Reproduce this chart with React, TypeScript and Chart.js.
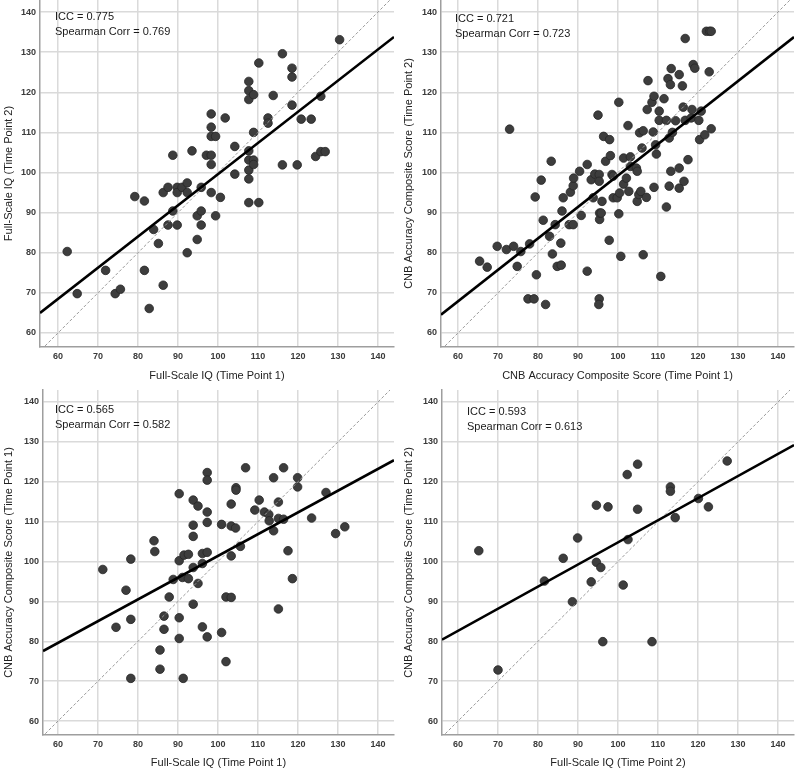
import React, { useEffect, useRef } from "react";
import { Chart, registerables } from "chart.js";

Chart.register(...registerables);

const FONT = '"Liberation Sans", Arial, sans-serif';

const TICKS = [60, 70, 80, 90, 100, 110, 120, 130, 140];
const IDENTITY_X = [40, 160];
const IDENTITY_Y = [40, 160];

// Panel 1: Full-Scale IQ T1 vs T2
const P1_X = [
  62.3, 64.8, 71.9, 74.3, 75.6, 79.2, 81.6, 81.6, 82.8, 83.9,
  85.1, 86.3, 86.3, 87.5, 87.5, 88.7, 88.7, 89.8, 89.8, 89.8,
  91.0, 92.3, 92.3, 92.3, 93.5, 94.8, 94.8, 95.8, 95.8, 95.8,
  97.1, 98.3, 98.3, 98.3, 98.3, 98.3, 98.3, 99.4, 99.4, 100.6,
  101.8, 104.2, 104.2, 107.7, 107.7, 107.7, 107.7, 107.7, 107.7, 107.7,
  107.7, 108.9, 108.9, 108.9, 108.9, 110.2, 110.2, 112.5, 112.5, 113.8,
  116.1, 116.1, 118.5, 118.5, 118.5, 119.8, 120.8, 123.3, 124.4, 125.7,
  125.7, 126.8, 130.4,
];
const P1_Y = [
  80.3, 69.8, 75.6, 69.8, 70.9, 94.0, 92.9, 75.6, 66.1, 85.8,
  82.3, 95.0, 71.9, 96.3, 86.9, 90.4, 104.3, 96.3, 95.0, 86.9,
  96.3, 97.4, 95.0, 80.0, 105.4, 83.3, 89.2, 96.3, 90.4, 86.9,
  104.3, 104.3, 102.0, 95.0, 114.6, 111.3, 109.0, 109.0, 89.2, 93.8,
  113.6, 106.5, 99.6, 122.7, 120.4, 118.2, 105.4, 103.1, 100.6, 98.4,
  92.5, 119.4, 110.0, 103.1, 102.0, 127.3, 92.5, 113.6, 112.3, 119.2,
  129.6, 101.9, 126.0, 123.8, 116.8, 101.9, 113.3, 113.3, 104.0, 119.0,
  105.2, 105.2, 133.1,
];
const P1_FIT_X = [55.5, 144];
const P1_FIT_Y = [65.0, 133.8];
const P1_STATS = ["ICC = 0.775", "Spearman Corr = 0.769"];
const P1_X_TITLE = "Full-Scale IQ (Time Point 1)";
const P1_Y_TITLE = "Full-Scale IQ (Time Point 2)";

// Panel 2: CNB T1 vs T2
const P2_X = [
  65.4, 67.3, 69.8, 72.1, 72.9, 73.9, 74.8, 75.7, 77.9, 77.5,
  79.0, 79.3, 79.6, 80.8, 81.3, 81.9, 82.9, 83.3, 83.6, 84.3,
  84.8, 85.7, 85.8, 86.0, 86.3, 87.8, 88.1, 88.8, 88.8, 88.9,
  90.4, 90.8, 92.3, 92.3, 93.3, 93.8, 94.2, 95.0, 95.3, 95.3,
  95.4, 95.4, 95.3, 95.2, 95.8, 96.0, 96.4, 96.9, 97.8, 97.9,
  98.1, 98.5, 98.8, 98.8, 99.8, 100.2, 100.2, 100.4, 100.7, 101.4,
  101.4, 102.1, 102.5, 102.7, 103.1, 103.1, 104.6, 104.8, 104.8, 105.2,
  105.4, 105.7, 106.0, 106.3, 106.3, 107.1, 107.3, 107.5, 108.5, 108.8,
  109.0, 109.0, 109.4, 109.6, 110.3, 110.3, 110.7, 111.5, 112.1, 112.1,
  112.5, 112.8, 112.8, 113.1, 113.3, 113.2, 113.6, 114.4, 115.3, 115.3,
  115.3, 116.1, 116.3, 116.5, 116.8, 116.8, 117.5, 118.3, 118.5, 118.8,
  119.2, 120.2, 120.4, 120.8, 121.7, 122.1, 122.9, 123.3, 122.8, 123.3,
];
const P2_Y = [
  77.9, 76.4, 81.6, 80.8, 110.8, 81.6, 76.6, 80.3, 82.2, 68.5,
  68.5, 93.9, 74.5, 98.1, 88.1, 67.1, 84.1, 102.8, 79.7, 87.0,
  76.6, 82.4, 76.9, 90.4, 93.7, 87.0, 95.1, 87.0, 96.7, 98.6,
  100.3, 89.3, 102.0, 75.4, 98.2, 93.7, 99.6, 114.3, 99.5, 97.8,
  88.3, 89.9, 68.5, 67.1, 89.9, 92.8, 109.0, 102.8, 83.1, 108.2,
  104.2, 99.5, 93.7, 99.1, 93.7, 117.5, 89.7, 94.9, 79.1, 103.6,
  97.1, 98.6, 111.7, 95.3, 103.9, 101.5, 101.1, 100.3, 92.8, 94.5,
  109.9, 95.3, 106.1, 110.4, 79.5, 93.8, 115.7, 122.9, 117.5, 110.1,
  119.0, 96.3, 106.9, 104.6, 115.3, 113.0, 74.1, 118.4, 113.0, 91.4,
  123.4, 108.6, 96.6, 121.9, 125.9, 100.3, 110.0, 112.9, 124.4, 101.1,
  96.1, 121.6, 116.3, 97.8, 133.4, 113.0, 103.2, 113.6, 115.7, 126.9,
  126.0, 113.0, 108.2, 115.3, 109.4, 135.2, 135.2, 135.2, 125.1, 110.9,
];
const P2_FIT_X = [55.75, 144];
const P2_FIT_Y = [64.55, 133.75];
const P2_STATS = ["ICC = 0.721", "Spearman Corr = 0.723"];
const P2_X_TITLE = "CNB Accuracy Composite Score (Time Point 1)";
const P2_Y_TITLE = "CNB Accuracy Composite Score (Time Point 2)";

// Panel 3: FSIQ T1 vs CNB T1
const P3_X = [
  71.2, 74.5, 77.0, 78.2, 78.2, 78.2, 84.0, 84.2, 85.5, 85.5,
  86.5, 86.5, 87.8, 88.8, 90.3, 90.3, 90.3, 90.3, 91.1, 91.3,
  91.5, 92.6, 92.6, 93.8, 93.8, 93.8, 93.8, 93.8, 95.0, 95.0,
  96.1, 96.1, 96.1, 97.3, 97.3, 97.3, 97.3, 97.3, 97.3, 100.9,
  100.9, 102.0, 102.0, 103.3, 103.3, 103.3, 103.3, 104.4, 104.5, 104.5,
  105.6, 106.9, 109.2, 110.3, 111.6, 112.7, 112.8, 113.9, 113.9, 115.1,
  115.1, 115.1, 116.4, 116.4, 117.5, 118.6, 119.9, 119.9, 123.4, 127.0,
  129.4, 131.7,
];
const P3_Y = [
  98.0, 83.5, 92.8, 100.6, 85.5, 70.7, 105.2, 102.5, 77.8, 73.0,
  86.3, 83.0, 91.1, 95.5, 117.0, 100.2, 85.9, 80.7, 96.0, 70.7,
  101.6, 101.8, 95.7, 115.4, 109.1, 106.3, 98.5, 89.3, 113.9, 94.5,
  102.0, 83.6, 99.5, 122.3, 120.4, 112.4, 109.8, 102.3, 81.1, 109.3,
  82.2, 91.1, 74.9, 114.4, 108.9, 101.4, 91.0, 108.4, 118.5, 117.9,
  103.8, 123.5, 112.9, 115.4, 112.4, 111.8, 110.2, 107.7, 121.0, 114.9,
  110.8, 88.1, 123.5, 110.6, 102.7, 95.7, 121.0, 118.7, 110.9, 117.3,
  107.0, 108.7,
];
const P3_FIT_X = [56.25, 144];
const P3_FIT_Y = [77.55, 125.4];
const P3_STATS = ["ICC = 0.565", "Spearman Corr = 0.582"];
const P3_X_TITLE = "Full-Scale IQ (Time Point 1)";
const P3_Y_TITLE = "CNB Accuracy Composite Score (Time Point 1)";

// Panel 4: FSIQ T2 vs CNB T2
const P4_X = [
  65.2, 70.0, 81.6, 86.3, 88.6, 89.9, 93.3, 94.6, 94.6, 95.7,
  96.2, 97.5, 101.3, 102.3, 102.5, 104.9, 104.9, 108.5, 113.1, 113.1,
  114.3, 120.1, 122.6, 127.3,
];
const P4_Y = [
  102.7, 72.8, 95.1, 100.8, 89.9, 105.9, 94.9, 114.1, 99.8, 98.5,
  79.9, 113.7, 94.1, 121.8, 105.5, 124.4, 113.1, 79.9, 118.7, 117.6,
  111.0, 115.8, 113.7, 125.2,
];
const P4_FIT_X = [56, 144];
const P4_FIT_Y = [80.4, 129.2];
const P4_STATS = ["ICC = 0.593", "Spearman Corr = 0.613"];
const P4_X_TITLE = "Full-Scale IQ (Time Point 2)";
const P4_Y_TITLE = "CNB Accuracy Composite Score (Time Point 2)";

const PANELS = [
  { xs: P1_X, ys: P1_Y, fx: P1_FIT_X, fy: P1_FIT_Y, stats: P1_STATS, xt: P1_X_TITLE, yt: P1_Y_TITLE,
    axisW: 40, xMin: 55.5, padTop: 0, xAxisH: 40, tdx: 15, tdy: 17 },
  { xs: P2_X, ys: P2_Y, fx: P2_FIT_X, fy: P2_FIT_Y, stats: P2_STATS, xt: P2_X_TITLE, yt: P2_Y_TITLE,
    axisW: 41, xMin: 55.75, padTop: 0, xAxisH: 40, tdx: 14, tdy: 19 },
  { xs: P3_X, ys: P3_Y, fx: P3_FIT_X, fy: P3_FIT_Y, stats: P3_STATS, xt: P3_X_TITLE, yt: P3_Y_TITLE,
    axisW: 43, xMin: 56.25, padTop: 3, xAxisH: 39, tdx: 12, tdy: 20 },
  { xs: P4_X, ys: P4_Y, fx: P4_FIT_X, fy: P4_FIT_Y, stats: P4_STATS, xt: P4_X_TITLE, yt: P4_Y_TITLE,
    axisW: 42, xMin: 56, padTop: 3, xAxisH: 39, tdx: 25, tdy: 22 },
];

const statsPlugin = {
  id: "statsText",
  afterDatasetsDraw(chart: any, _args: any, opts: any) {
    const { ctx, chartArea } = chart;
    ctx.save();
    ctx.font = `11px ${FONT}`;
    ctx.fillStyle = "#1a1a1a";
    ctx.textBaseline = "middle";
    ctx.textAlign = "left";
    (opts.lines || []).forEach((t: string, i: number) => {
      ctx.fillText(t, chartArea.left + opts.dx, chartArea.top + opts.dy + i * 15);
    });
    ctx.restore();
  },
};

function zeroPad(s: any) {
  s.paddingTop = 0;
  s.paddingBottom = 0;
  s.paddingLeft = 0;
  s.paddingRight = 0;
}

function Panel({ p }: { p: any }) {
  const ref = useRef<HTMLCanvasElement>(null);
  useEffect(() => {
    if (!ref.current) return;
    const setTicks = (s: any) => {
      s.ticks = TICKS.map((v) => ({ value: v }));
    };
    const tickFont = { size: 9, family: FONT, weight: "bold" as const };
    const titleFont = { size: 11, family: FONT };
    const chart = new Chart(ref.current, {
      type: "scatter",
      data: {
        datasets: [
          {
            data: p.fx.map((x: number, i: number) => ({ x, y: p.fy[i] })),
            showLine: true,
            borderColor: "#000",
            borderWidth: 2.6,
            pointRadius: 0,
            clip: 0,
          } as any,
          {
            data: IDENTITY_X.map((x, i) => ({ x, y: IDENTITY_Y[i] })),
            showLine: true,
            borderColor: "#9a9a9a",
            borderWidth: 1,
            borderDash: [3, 2],
            pointRadius: 0,
            clip: 0,
          } as any,
          {
            data: p.xs.map((x: number, i: number) => ({ x, y: p.ys[i] })),
            backgroundColor: "#3d3d3d",
            borderColor: "#262626",
            borderWidth: 0.8,
            pointRadius: 4.3,
          } as any,
        ],
      },
      options: {
        responsive: false,
        animation: false,
        events: [],
        layout: { autoPadding: false, padding: { top: p.padTop, right: 6, left: 0, bottom: 0 } },
        plugins: {
          legend: { display: false },
          tooltip: { enabled: false },
          statsText: { lines: p.stats, dx: p.tdx, dy: p.tdy },
        } as any,
        scales: {
          x: {
            type: "linear",
            min: p.xMin,
            max: 144,
            afterBuildTicks: setTicks,
            afterFit: (s: any) => {
              s.height = p.xAxisH;
              zeroPad(s);
            },
            ticks: { font: tickFont, color: "#3a3a3a", padding: 4, maxRotation: 0, autoSkip: false },
            grid: { color: "#dadada", lineWidth: 1.5, drawTicks: false },
            border: { color: "#9e9e9e", width: 1.5 },
            title: { display: true, text: p.xt, font: titleFont, color: "#222", padding: { top: 4, bottom: 4 } },
          },
          y: {
            type: "linear",
            min: 56.5,
            max: 143,
            afterBuildTicks: setTicks,
            afterFit: (s: any) => {
              s.width = p.axisW;
              zeroPad(s);
            },
            ticks: { font: tickFont, color: "#3a3a3a", padding: 4, autoSkip: false },
            grid: { color: "#dadada", lineWidth: 1.5, drawTicks: false },
            border: { color: "#9e9e9e", width: 1.5 },
            title: { display: true, text: p.yt, font: titleFont, color: "#222", padding: { top: 2, bottom: 2 } },
          },
        } as any,
      },
      plugins: [statsPlugin],
    });
    return () => chart.destroy();
  }, [p]);
  return <canvas ref={ref} width={400} height={387} style={{ display: "block", width: 400, height: 387 }} />;
}

export default function App() {
  return (
    <div
      style={{
        position: "absolute",
        left: 0,
        top: 0,
        width: 800,
        height: 774,
        background: "#fff",
        display: "grid",
        gridTemplateColumns: "400px 400px",
        gridTemplateRows: "387px 387px",
      }}
    >
      {PANELS.map((p, i) => (
        <Panel key={i} p={p} />
      ))}
    </div>
  );
}
